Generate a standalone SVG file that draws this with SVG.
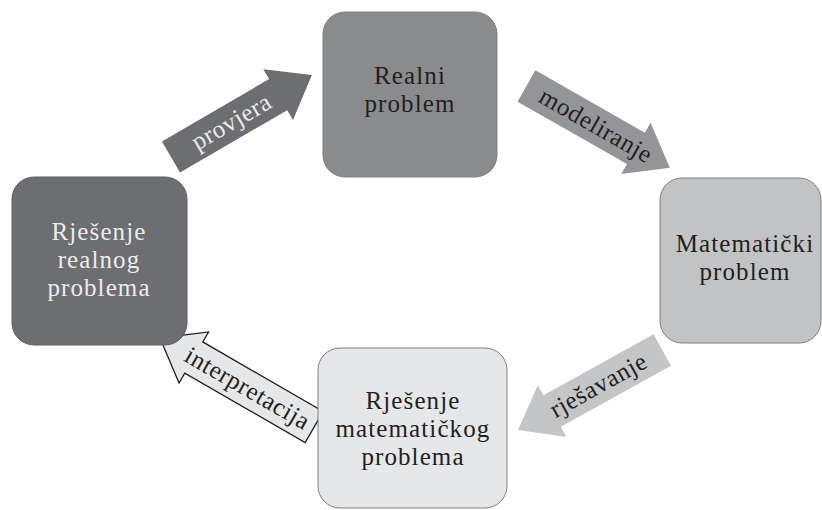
<svg xmlns="http://www.w3.org/2000/svg" width="822" height="510" viewBox="0 0 822 510">
<style>
  .box{stroke:#7d7e80;stroke-width:1}
  .t{font-family:"Liberation Serif","Times New Roman",serif;font-size:25px;letter-spacing:1.1px;text-anchor:middle;fill:#231f20}
  .at{font-family:"Liberation Serif","Times New Roman",serif;font-size:25px;letter-spacing:0.6px;text-anchor:middle;fill:#231f20}
  .light{fill:#ececec}
</style>
<rect width="822" height="510" fill="#ffffff"/>
<g id="connectors">
  <g id="provjera" transform="translate(171,157) rotate(-30.2)">
    <path d="M0,-18 H124 V-29.5 L163,0 L124,29.5 V18 H0 Z" fill="#6d6e71"/>
    <text class="at light" x="70" y="8">provjera</text>
  </g>
  <g id="modeliranje" transform="translate(526.5,86) rotate(29.7)">
    <path d="M0,-18 H126 V-29.5 L165,0 L126,29.5 V18 H0 Z" fill="#939598"/>
    <text class="at" x="80" y="8">modeliranje</text>
  </g>
  <g id="rjesavanje" transform="translate(518,430) rotate(-29)">
    <path d="M0,0 L39,-29.5 V-18 H165 V18 H39 V29.5 Z" fill="#c4c5c7"/>
    <text class="at" x="92" y="8">rješavanje</text>
  </g>
  <g id="interpretacija" transform="translate(160,338) rotate(30)">
    <path d="M0,0 L39,-29.5 V-18 H178 V18 H39 V29.5 Z" fill="#e6e7e8" stroke="#231f20" stroke-width="1.3" stroke-linejoin="miter"/>
    <text class="at" x="101" y="8">interpretacija</text>
  </g>
</g>
<g id="realni">
  <rect class="box" x="323" y="12" width="174" height="165" rx="22" fill="#8a8b8d"/>
  <text class="t" x="410" y="84">Realni</text>
  <text class="t" x="410" y="112">problem</text>
</g>
<g id="matematicki">
  <rect class="box" x="660" y="178" width="161" height="165" rx="22" fill="#c2c3c5"/>
  <text class="t" x="745" y="252">Matematički</text>
  <text class="t" x="745" y="280">problem</text>
</g>
<g id="rjesenje-mat">
  <rect class="box" x="318" y="348" width="189" height="160" rx="22" fill="#e6e7e8"/>
  <text class="t" x="413" y="409">Rješenje</text>
  <text class="t" x="413" y="437">matematičkog</text>
  <text class="t" x="413" y="465">problema</text>
</g>
<g id="rjesenje-realnog">
  <rect x="12" y="177" width="175" height="168" rx="22" fill="#6d6e71" stroke="#5d5e61" stroke-width="1"/>
  <text class="t light" x="99" y="240">Rješenje</text>
  <text class="t light" x="99" y="268">realnog</text>
  <text class="t light" x="99" y="296">problema</text>
</g>
</svg>
